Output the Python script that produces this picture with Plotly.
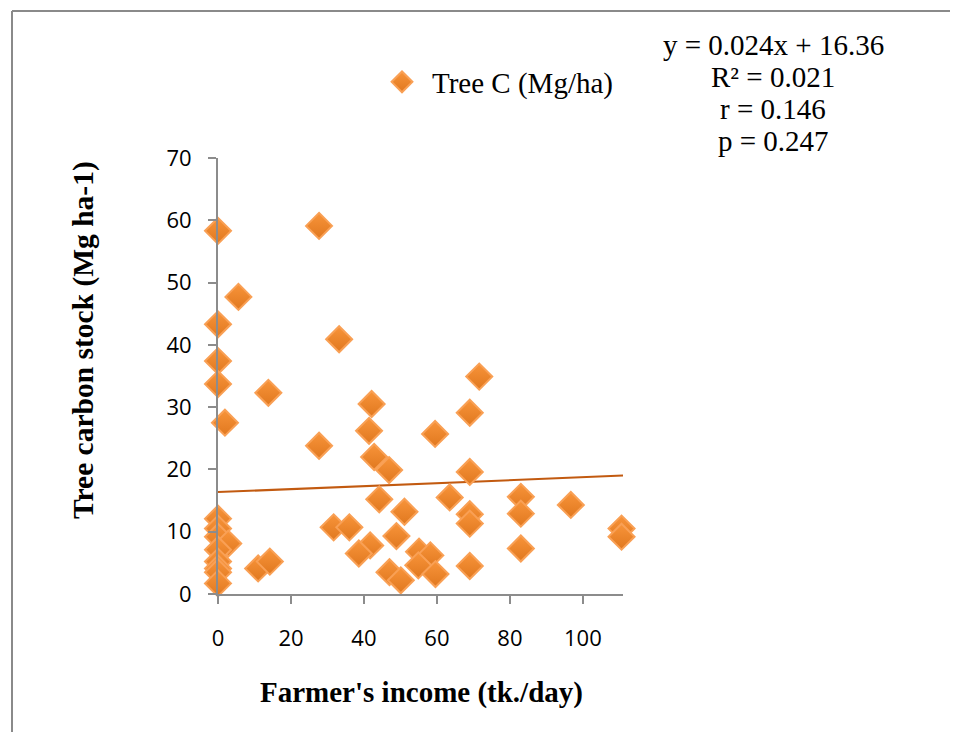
import plotly.graph_objects as go

# Data
income = [0, 5.6, 0, 0, 0, 13.8, 1.9,
          0, 0, 0, 2.8, 0, 0, 0, 0, 0, 11.0, 14.2,
          27.7, 33.2, 42.1, 41.4, 27.7, 42.8, 46.9, 59.5, 71.6, 69.0, 69.0,
          44.2, 63.5, 51.1, 69.0, 69.0, 31.7, 36.0, 48.9, 41.7, 38.6, 55.1, 58.2,
          54.9, 47.0, 50.1, 59.6, 69.0,
          83.0, 83.0, 96.7, 110.6, 110.6, 83.0]
tree_c = [58.3, 47.7, 43.3, 37.4, 33.7, 32.3, 27.5,
          12.1, 10.5, 9.2, 8.1, 7.1, 5.2, 4.1, 3.5, 1.7, 4.1, 5.2,
          59.1, 40.9, 30.5, 26.2, 23.8, 22.0, 19.9, 25.7, 34.9, 29.1, 19.6,
          15.2, 15.5, 13.2, 12.8, 11.3, 10.7, 10.7, 9.3, 7.8, 6.5, 6.8, 6.2,
          4.6, 3.5, 2.2, 3.2, 4.5,
          15.6, 12.9, 14.3, 10.5, 9.2, 7.3]

slope = 0.024
intercept = 16.36
trend_x = [0, 111]
trend_y = [intercept + slope * v for v in trend_x]

stats_lines = ["y = 0.024x + 16.36", "R² = 0.021", "r = 0.146", "p = 0.247"]
x_ticks = [0, 20, 40, 60, 80, 100]
y_ticks = [0, 10, 20, 30, 40, 50, 60, 70]

# page offset (body margin) and plot area in target pixels
OFF = 8
L, R, T, B = 218, 623, 158, 594
W, H = R - L, B - T
FIG_W, FIG_H = 958 - OFF, 740 - 2 * OFF


def px(x):
    return (x - L) / W


def py(y):
    return (B - y) / H


fig = go.Figure()
fig.add_trace(go.Scatter(
    x=trend_x, y=trend_y, mode="lines",
    line=dict(color="#C25A10", width=2), showlegend=False, hoverinfo="skip"))
fig.add_trace(go.Scatter(
    x=income, y=tree_c, mode="markers", name="Tree C (Mg/ha)",
    cliponaxis=False,
    marker=dict(symbol="diamond", size=20, color="#F8943A",
                gradient=dict(type="vertical", color="#E0781F"),
                line=dict(color="#F9A055", width=2))))

serif = "Liberation Serif, Times New Roman, serif"
annotations = []
for i, s in enumerate(stats_lines):
    annotations.append(dict(
        text=s, x=px(773), y=py(45 + 32 * i), xref="paper", yref="paper",
        xanchor="center", yanchor="middle", showarrow=False,
        font=dict(family=serif, size=29, color="black")))
annotations.append(dict(
    text="<b>Farmer's income (tk./day)</b>", x=px(421), y=py(692),
    xref="paper", yref="paper", xanchor="center", yanchor="middle",
    showarrow=False, font=dict(family=serif, size=29, color="black")))
annotations.append(dict(
    text="<b>Tree carbon stock (Mg ha-1)</b>", x=px(83), y=py(340),
    xref="paper", yref="paper", xanchor="center", yanchor="middle",
    textangle=-90, showarrow=False,
    font=dict(family=serif, size=29.5, color="black")))

shapes = [
    dict(type="line", xref="paper", yref="paper", x0=px(12), x1=px(12),
         y0=py(11), y1=py(780), line=dict(color="#8A8A8A", width=2)),
    dict(type="line", xref="paper", yref="paper", x0=px(12), x1=px(1000),
         y0=py(11), y1=py(11), line=dict(color="#8A8A8A", width=2)),
]

axis_font = dict(family="Open Sans, sans-serif", size=22, color="black")
fig.update_layout(
    width=FIG_W, height=FIG_H,
    margin=dict(l=L - OFF, r=FIG_W - (R - OFF), t=T - OFF, b=FIG_H - (B - OFF)),
    paper_bgcolor="white", plot_bgcolor="white",
    showlegend=True,
    legend=dict(x=px(372), y=py(82), xanchor="left", yanchor="middle",
                itemwidth=50,
                font=dict(family=serif, size=29, color="black"),
                bgcolor="rgba(0,0,0,0)"),
    annotations=annotations, shapes=shapes,
    xaxis=dict(range=[0, 111], tickvals=x_ticks, showgrid=False, zeroline=False,
               showline=True, linecolor="#8C8C8C", linewidth=2,
               ticks="outside", ticklen=8, tickcolor="#8C8C8C", tickwidth=2,
               tickfont=axis_font, ticklabelstandoff=16),
    yaxis=dict(range=[0, 70], tickvals=y_ticks, showgrid=False, zeroline=False,
               showline=True, linecolor="#8C8C8C", linewidth=2,
               ticks="outside", ticklen=8, tickcolor="#8C8C8C", tickwidth=2,
               tickfont=axis_font, ticklabelstandoff=12),
)

fig.write_html("out.html")
